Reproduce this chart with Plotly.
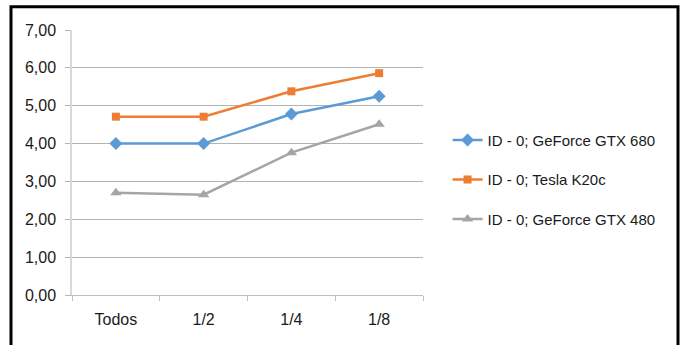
import plotly.graph_objects as go

categories = ["Todos", "1/2", "1/4", "1/8"]
gtx680 = [4.00, 4.00, 4.78, 5.25]
k20c = [4.71, 4.71, 5.38, 5.86]
gtx480 = [2.70, 2.65, 3.76, 4.51]
series_names = ["ID - 0; GeForce GTX 680", "ID - 0; Tesla K20c", "ID - 0; GeForce GTX 480"]
y_ticks = [0, 1, 2, 3, 4, 5, 6, 7]

FONT = "Liberation Sans Narrow, Liberation Sans, Arial, sans-serif"

styles = [
    ("#5B9BD5", "diamond", 10),
    ("#ED7D31", "square", 8),
    ("#A5A5A5", "triangle-up", 10),
]

fig = go.Figure()
for name, vals, (color, symbol, size) in zip(series_names, [gtx680, k20c, gtx480], styles):
    fig.add_trace(go.Scatter(
        x=categories, y=vals, name=name, mode="lines+markers",
        legendgroup=name,
        line=dict(color=color, width=2.5),
        marker=dict(symbol=symbol, size=size, color=color),
    ))

fig.update_layout(
    width=682, height=345,
    margin=dict(l=72, r=259, t=30, b=50),
    paper_bgcolor="white", plot_bgcolor="white",
    separators=",.",
    font=dict(family=FONT, size=15, color="#1a1a1a"),
    showlegend=True,
    legend=dict(
        x=1.07, y=0.435, xanchor="left", yanchor="middle",
        font=dict(family=FONT, size=15, color="#1a1a1a"),
        tracegroupgap=17, bgcolor="rgba(0,0,0,0)",
    ),
    xaxis=dict(
        type="category", range=[-0.5, 3.5],
        showgrid=False, showline=True, linecolor="#BFBFBF", linewidth=1,
        ticks="outside", tickson="boundaries", ticklen=5, tickcolor="#BFBFBF",
        ticklabelstandoff=10,
        tickfont=dict(family=FONT, size=16, color="#1a1a1a"),
    ),
    yaxis=dict(
        range=[0, 7], tickvals=y_ticks, tickformat=".2f",
        showgrid=True, gridcolor="#B3B3B3", gridwidth=1,
        showline=True, linecolor="#D9D9D9", linewidth=1.5,
        ticks="outside", ticklen=5, tickcolor="#B3B3B3",
        ticklabelstandoff=6,
        zeroline=False,
        tickfont=dict(family=FONT, size=16, color="#1a1a1a"),
    ),
    shapes=[dict(
        type="rect", xref="paper", yref="paper",
        x0=-0.1738, x1=1.7265, y0=-0.25, y1=1.088,
        line=dict(color="black", width=3), fillcolor="rgba(0,0,0,0)",
        layer="below",
    )],
)

fig.write_html("out.html")
